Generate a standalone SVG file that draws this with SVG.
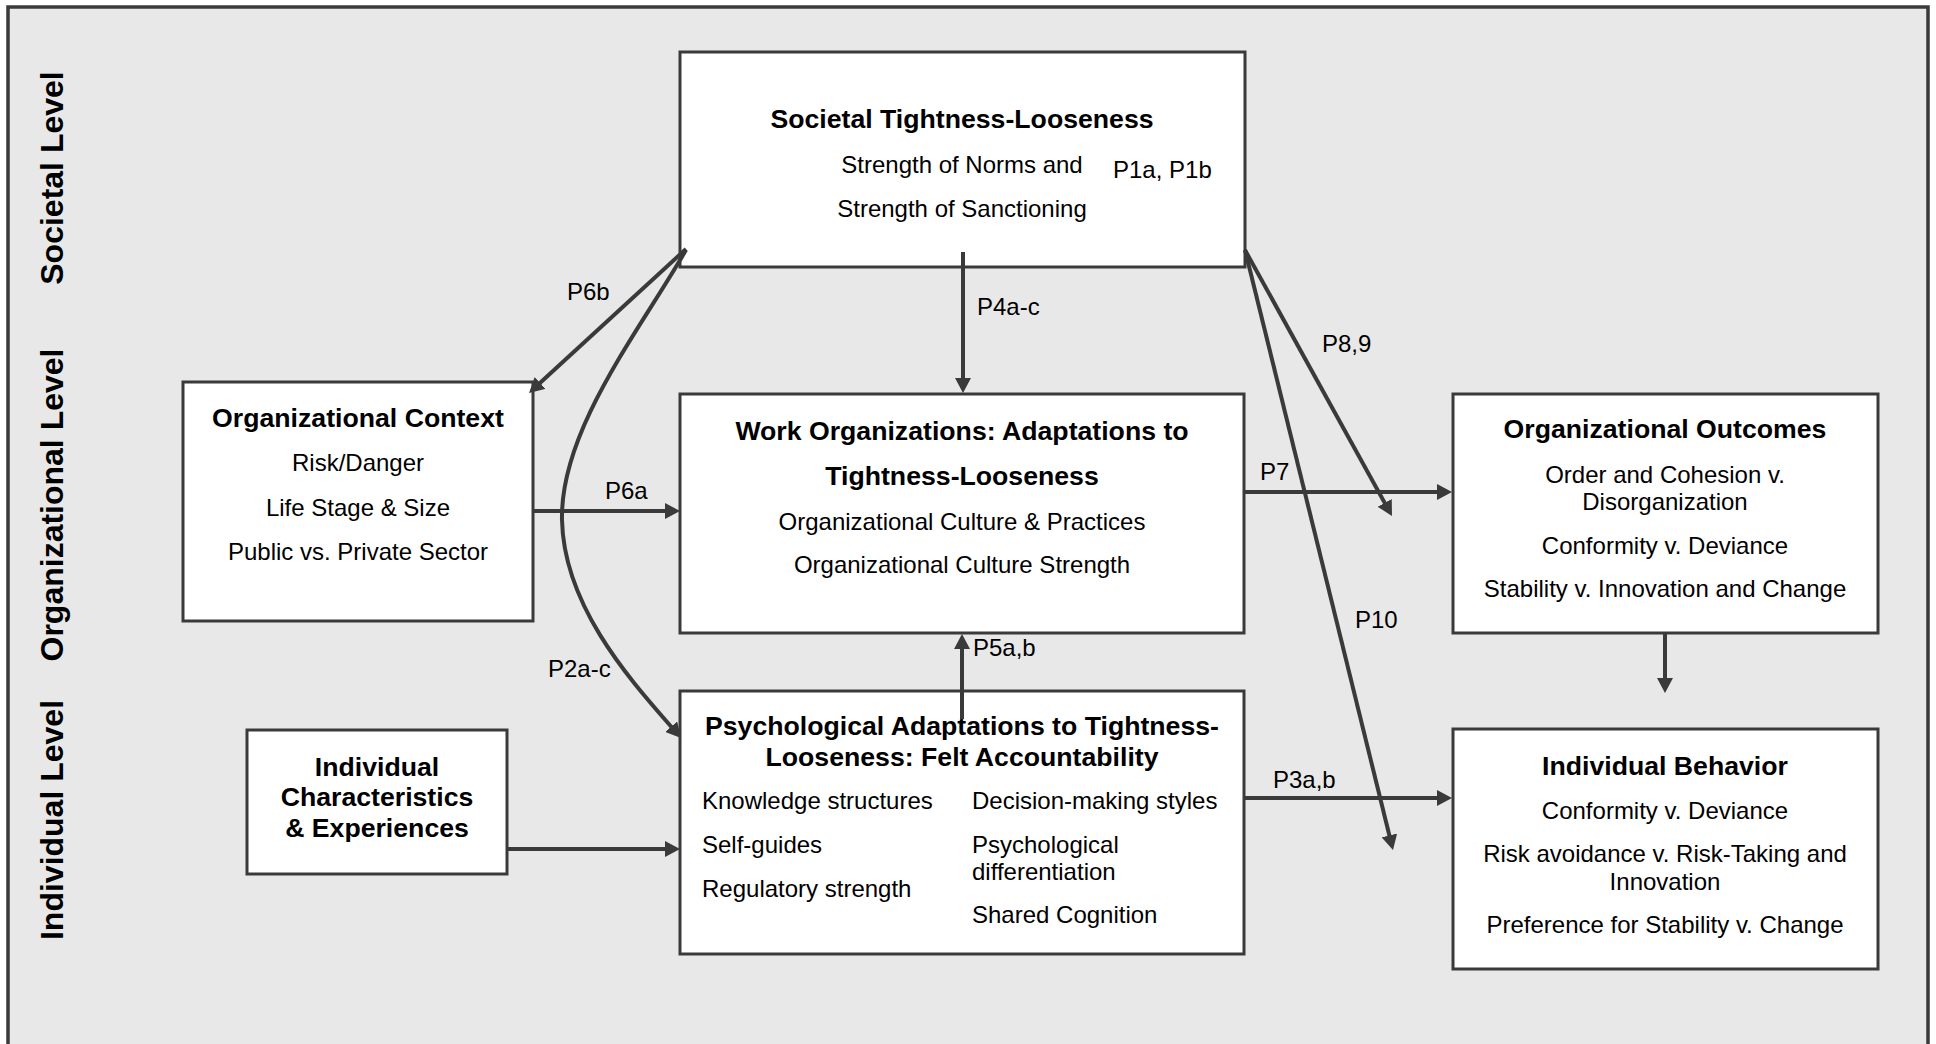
<svg xmlns="http://www.w3.org/2000/svg" width="1936" height="1044" viewBox="0 0 1936 1044">
<defs>
<style>
text{font-family:"Liberation Sans",Arial,sans-serif;fill:#000;}
.b{font-weight:bold;font-size:26.67px;}
.t{font-size:24px;}
.lv{font-weight:bold;font-size:32px;}
.c{text-anchor:middle;}
.box{fill:#fff;stroke:#3a3a3a;stroke-width:3;}
.cn{fill:none;stroke:#3a3a3a;stroke-width:4;marker-end:url(#ah);}
</style>
<marker id="ah" markerUnits="userSpaceOnUse" viewBox="0 0 15 16" markerWidth="15" markerHeight="16" refX="8" refY="8" orient="auto">
<path d="M0,0 L15,8 L0,16 z" fill="#3a3a3a"/>
</marker>
</defs>
<rect x="0" y="0" width="1936" height="1044" fill="#fff"/>
<rect id="frame" x="8" y="7" width="1920" height="1060" fill="#e8e8e8" stroke="#3a3a3a" stroke-width="3.5"/>

<g id="levels">
<text class="lv c" transform="translate(63,178) rotate(-90)">Societal Level</text>
<text class="lv c" transform="translate(63,505) rotate(-90)">Organizational Level</text>
<text class="lv c" transform="translate(63,820) rotate(-90)">Individual Level</text>
</g>

<g id="societal">
<rect class="box" x="680" y="52" width="565" height="215"/>
<text class="b c" x="962" y="128">Societal Tightness-Looseness</text>
<text class="t c" x="962" y="173">Strength of Norms and</text>
<text class="t c" x="962" y="217">Strength of Sanctioning</text>
</g>

<g id="orgcontext">
<rect class="box" x="183" y="382" width="350" height="239"/>
<text class="b c" x="358" y="427">Organizational Context</text>
<text class="t c" x="358" y="471">Risk/Danger</text>
<text class="t c" x="358" y="516">Life Stage &amp; Size</text>
<text class="t c" x="358" y="560">Public vs. Private Sector</text>
</g>

<g id="workorg">
<rect class="box" x="680" y="394" width="564" height="239"/>
<text class="b c" x="962" y="440">Work Organizations: Adaptations to</text>
<text class="b c" x="962" y="485">Tightness-Looseness</text>
<text class="t c" x="962" y="530">Organizational Culture &amp; Practices</text>
<text class="t c" x="962" y="573">Organizational Culture Strength</text>
</g>

<g id="indchar">
<rect class="box" x="247" y="730" width="260" height="144"/>
<text class="b c" x="377" y="776">Individual</text>
<text class="b c" x="377" y="806">Characteristics</text>
<text class="b c" x="377" y="837">&amp; Experiences</text>
</g>

<g id="psych">
<rect class="box" x="680" y="691" width="564" height="263"/>
<text class="b c" x="962" y="735">Psychological Adaptations to Tightness-</text>
<text class="b c" x="962" y="766">Looseness: Felt Accountability</text>
<text class="t" x="702" y="809">Knowledge structures</text>
<text class="t" x="702" y="853">Self-guides</text>
<text class="t" x="702" y="897">Regulatory strength</text>
<text class="t" x="972" y="809">Decision-making styles</text>
<text class="t" x="972" y="853">Psychological</text>
<text class="t" x="972" y="880">differentiation</text>
<text class="t" x="972" y="923">Shared Cognition</text>
</g>

<g id="orgoutcomes">
<rect class="box" x="1453" y="394" width="425" height="239"/>
<text class="b c" x="1665" y="438">Organizational Outcomes</text>
<text class="t c" x="1665" y="483">Order and Cohesion v.</text>
<text class="t c" x="1665" y="510">Disorganization</text>
<text class="t c" x="1665" y="554">Conformity v. Deviance</text>
<text class="t c" x="1665" y="597">Stability v. Innovation and Change</text>
</g>

<g id="indbehavior">
<rect class="box" x="1453" y="729" width="425" height="240"/>
<text class="b c" x="1665" y="775">Individual Behavior</text>
<text class="t c" x="1665" y="819">Conformity v. Deviance</text>
<text class="t c" x="1665" y="862">Risk avoidance v. Risk-Taking and</text>
<text class="t c" x="1665" y="890">Innovation</text>
<text class="t c" x="1665" y="933">Preference for Stability v. Change</text>
</g>

<g id="connectors">
<path class="cn" d="M963,252 L963,386"/>
<path class="cn" d="M962,719 L962,641"/>
<path class="cn" d="M533,511 L673,511"/>
<path class="cn" d="M507,849 L673,849"/>
<path class="cn" d="M1244,492 L1445,492"/>
<path class="cn" d="M1244,798 L1445,798"/>
<path class="cn" d="M1665,633 L1665,686"/>
<path class="cn" d="M686,249 L534.2,388.3"/>
<path class="cn" d="M1245,250 L1388.6,509.9"/>
<path class="cn" d="M1245,250 L1391.3,843.2"/>
<path class="cn" d="M686,250 C640,330 560,430 562,520 C564,610 636,686 676.4,732.7"/>
</g>

<g id="labels">
<text class="t" x="1113" y="178">P1a, P1b</text>
<text class="t" x="567" y="300">P6b</text>
<text class="t" x="977" y="315">P4a-c</text>
<text class="t" x="1322" y="352">P8,9</text>
<text class="t" x="1260" y="480">P7</text>
<text class="t" x="605" y="499">P6a</text>
<text class="t" x="1355" y="628">P10</text>
<text class="t" x="973" y="656">P5a,b</text>
<text class="t" x="548" y="677">P2a-c</text>
<text class="t" x="1273" y="788">P3a,b</text>
</g>
</svg>
